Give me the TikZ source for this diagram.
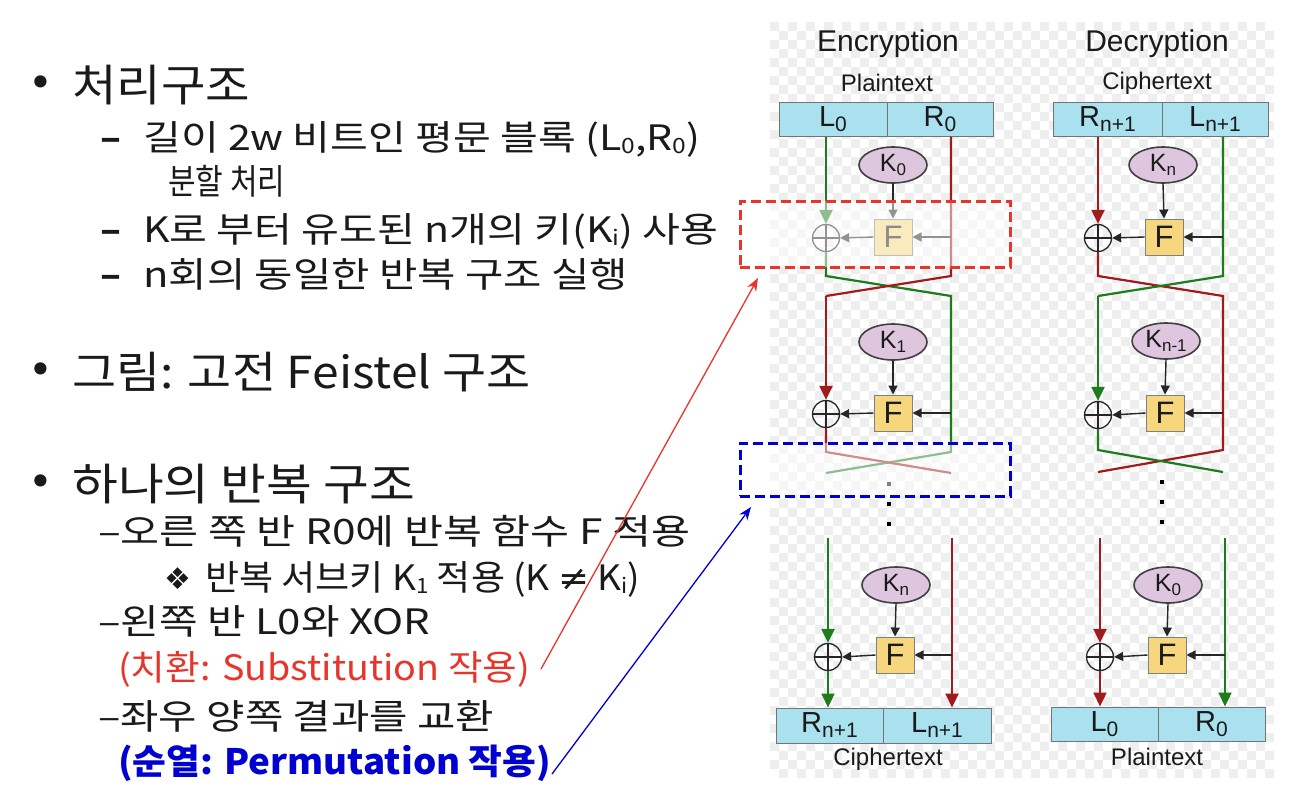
\documentclass[tikz,border=0pt]{standalone}
\usepackage{fontspec}
\usepackage{graphicx}
\usetikzlibrary{shapes.geometric,arrows.meta}
\setmainfont{Liberation Sans}
\newfontfamily\krfont{Noto Sans CJK KR}
\newfontfamily\symfont{DejaVu Sans}

\definecolor{encgreen}{HTML}{1E7B1E}
\definecolor{encred}{HTML}{A01C1C}
\definecolor{halfcyan}{HTML}{A9E1EE}
\definecolor{keypurple}{HTML}{DFC6DF}
\definecolor{fyellow}{HTML}{F6D77E}
\definecolor{checkgray}{HTML}{EEEEEE}
\definecolor{subred}{HTML}{E8352B}
\definecolor{permblue}{HTML}{0000D0}
\definecolor{inkgray}{HTML}{1A1A1A}

% stretch a line of text to a given width, keeping its height
\newcommand\fitto[2]{\resizebox{#1}{\height}{#2}}
% half-block labels, key labels and small indices in the running text
\newcommand\hsub[2]{#1\raisebox{-5pt}{\fontsize{21}{21}\selectfont #2}}
\newcommand\ksub[2]{#1\raisebox{-4pt}{\fontsize{17}{17}\selectfont #2}}
\newcommand\tsub[1]{\raisebox{-3pt}{\fontsize{21}{21}\selectfont #1}}

\begin{document}
\begin{tikzpicture}[x=1pt,y=-1pt,
  title/.style={font=\fontsize{30}{32}\selectfont, text=inkgray, inner sep=0},
  caption/.style={font=\fontsize{24}{26}\selectfont, text=inkgray, inner sep=0},
  half/.style={draw=black!55, line width=1pt, fill=halfcyan, minimum height=34pt,
    inner sep=0, font=\fontsize{29}{30}\selectfont, text=inkgray},
  keynode/.style={ellipse, draw=black!75, line width=1.6pt, fill=keypurple,
    minimum width=68pt, minimum height=36pt, inner sep=0,
    font=\fontsize{25}{26}\selectfont, text=inkgray},
  fnode/.style={draw=black!50, line width=1pt, fill=fyellow, minimum width=38pt,
    minimum height=36pt, inner sep=0, font=\fontsize{31}{32}\selectfont, text=inkgray},
  xornode/.style={circle, draw=black!85, line width=1.3pt, minimum size=27pt, inner sep=0,
    path picture={\draw[black!85, line width=1.3pt]
      (path picture bounding box.north) -- (path picture bounding box.south)
      (path picture bounding box.west) -- (path picture bounding box.east);}},
  gline/.style={draw=encgreen, line width=2.2pt},
  rline/.style={draw=encred, line width=2.2pt},
  bline/.style={draw=black!85, line width=1.4pt, -{Triangle[length=9pt,width=9pt]}},
  bigtip/.style={-{Triangle[length=14pt,width=13pt]}},
  dotn/.style={rectangle, fill=black, minimum size=4pt, inner sep=0},
  zone/.style={line width=3pt, dash pattern=on 10pt off 5pt, fill=white, fill opacity=0.5, draw opacity=1},
  bul/.style={font=\symfont\fontsize{42}{44}\selectfont, text=inkgray, inner sep=0},
  head/.style={anchor=base west, font=\krfont\fontsize{44}{48}\selectfont, text=inkgray, inner sep=0},
  sub/.style={anchor=base west, font=\krfont\fontsize{35}{40}\selectfont, text=inkgray, inner sep=0},
  dashmark/.style={anchor=base west, font=\krfont\bfseries\fontsize{35}{40}\selectfont, text=inkgray, inner sep=0},
  pointer/.style={line width=1.3pt, -{Stealth[length=13pt,width=10pt]}}
]
\useasboundingbox (0,0) rectangle (1313,806);
\fill[white] (0,0) rectangle (1313,806);

% ---------- checkered backdrop of the cipher diagram ----------
\fill[white] (770,22) rectangle (1274,778);
\foreach \j in {0,...,83}{
  \pgfmathtruncatemacro\s{mod(\j,2)}
  \pgfmathtruncatemacro\t{\s+2}
  \foreach \i in {\s,\t,...,55}{
    \fill[checkgray] (770+9*\i,22+9*\j) rectangle ++(9,9);
  }
}

% ---------- headings ----------
\node[title] (encT) at (888,44) {Encryption};
\node[title] (decT) at (1157,44) {Decryption};
\node[caption] (encP) at (887,83) {Plaintext};
\node[caption] (decC) at (1157,83) {Ciphertext};

% ---------- encryption ----------
\node[half, minimum width=108pt] (eL0) at (833,119) {\hsub{L}{0}};
\node[half, minimum width=106pt] (eR0) at (940,119) {\hsub{R}{0}};
\node[keynode] (eK1) at (893,165) {\ksub{K}{0}};
\node[fnode] (eF1) at (893,237) {F};
\node[xornode] (eX1) at (826,238) {};
\node[keynode] (eK2) at (893,342) {\ksub{K}{1}};
\node[fnode] (eF2) at (893,413) {F};
\node[xornode] (eX2) at (826,414) {};
\node[keynode] (eK3) at (896,585) {\ksub{K}{n}};
\node[fnode] (eF3) at (895,655) {F};
\node[xornode] (eX3) at (828,657) {};
\node[half, minimum width=107pt, minimum height=35pt] (eRn) at (829.5,725.5) {\hsub{R}{n+1}};
\node[half, minimum width=108pt, minimum height=35pt] (eLn) at (937,725.5) {\hsub{L}{n+1}};
\node[caption] (encC) at (888,759) {Ciphertext};

\coordinate (e1a) at (826,276); \coordinate (e1b) at (951,276);
\coordinate (e1c) at (826,296); \coordinate (e1d) at (951,296);
\coordinate (e2a) at (826,452); \coordinate (e2b) at (951,452);
\coordinate (e2c) at (826,473); \coordinate (e2d) at (951,473);
\coordinate (e3l) at (828,538); \coordinate (e3r) at (952,538);

\draw[gline, bigtip] (eX1 |- eL0.south) -- (eX1.north);
\draw[gline] (eX1.south) -- (e1a) -- (e1d) -- (e2b) -- (e2c);
\draw[rline] (e1b |- eR0.south) -- (e1b) -- (e1c);
\draw[rline, bigtip] (e1c) -- (eX2.north);
\draw[rline] (eX2.south) -- (e2a) -- (e2d);
\draw[gline, bigtip] (e3l) -- (eX3.north);
\draw[gline, bigtip] (eX3.south) -- (eX3 |- eRn.north);
\draw[rline, bigtip] (e3r) -- (e3r |- eLn.north);

\draw[bline] (eK1.south) -- (eF1.north);
\draw[bline] (e1b |- eF1) -- (eF1.east);
\draw[bline] (eF1.west) -- (eX1.east);
\draw[bline] (eK2.south) -- (eF2.north);
\draw[bline] (e1d |- eF2) -- (eF2.east);
\draw[bline] (eF2.west) -- (eX2.east);
\draw[bline] (eK3.south) -- (eF3.north);
\draw[bline] (e3r |- eF3) -- (eF3.east);
\draw[bline] (eF3.west) -- (eX3.east);

\node[dotn] (ed1) at (889,484) {};
\node[dotn] (ed2) at (889,504) {};
\node[dotn] (ed3) at (889,524) {};

% ---------- decryption ----------
\node[half, minimum width=109pt] (dRn) at (1107.5,119) {\hsub{R}{n+1}};
\node[half, minimum width=106pt] (dLn) at (1215,119) {\hsub{L}{n+1}};
\node[keynode] (dK1) at (1163,165) {\ksub{K}{n}};
\node[fnode] (dF1) at (1164,237) {F};
\node[xornode] (dX1) at (1098,238) {};
\node[keynode] (dK2) at (1166,341) {\ksub{K}{n-1}};
\node[fnode] (dF2) at (1165,413) {F};
\node[xornode] (dX2) at (1098,415) {};
\node[keynode] (dK3) at (1168,585) {\ksub{K}{0}};
\node[fnode] (dF3) at (1167,655) {F};
\node[xornode] (dX3) at (1100,657) {};
\node[half, minimum width=107pt] (dL0) at (1104.5,724) {\hsub{L}{0}};
\node[half, minimum width=107pt] (dR0) at (1211.5,724) {\hsub{R}{0}};
\node[caption] (decP) at (1157,757) {Plaintext};

\coordinate (d1a) at (1098,276); \coordinate (d1b) at (1223,276);
\coordinate (d1c) at (1098,296); \coordinate (d1d) at (1223,296);
\coordinate (d2a) at (1098,450); \coordinate (d2b) at (1223,450);
\coordinate (d2c) at (1098,472); \coordinate (d2d) at (1223,472);
\coordinate (d3l) at (1100,538); \coordinate (d3r) at (1225,538);

\draw[rline, bigtip] (dX1 |- dRn.south) -- (dX1.north);
\draw[rline] (dX1.south) -- (d1a) -- (d1d) -- (d2b) -- (d2c);
\draw[gline] (d1b |- dLn.south) -- (d1b) -- (d1c);
\draw[gline, bigtip] (d1c) -- (dX2.north);
\draw[gline] (dX2.south) -- (d2a) -- (d2d);
\draw[rline, bigtip] (d3l) -- (dX3.north);
\draw[rline, bigtip] (dX3.south) -- (dX3 |- dL0.north);
\draw[gline, bigtip] (d3r) -- (d3r |- dR0.north);

\draw[bline] (dK1.south) -- (dF1.north);
\draw[bline] (d1b |- dF1) -- (dF1.east);
\draw[bline] (dF1.west) -- (dX1.east);
\draw[bline] (dK2.south) -- (dF2.north);
\draw[bline] (d1d |- dF2) -- (dF2.east);
\draw[bline] (dF2.west) -- (dX2.east);
\draw[bline] (dK3.south) -- (dF3.north);
\draw[bline] (d3r |- dF3) -- (dF3.east);
\draw[bline] (dF3.west) -- (dX3.east);

\node[dotn] (dd1) at (1162,482) {};
\node[dotn] (dd2) at (1162,502) {};
\node[dotn] (dd3) at (1162,522) {};

% ---------- highlighted stages ----------
\node[zone, draw=subred, minimum width=270pt, minimum height=66pt, inner sep=0] (zoneS) at (875,234) {};
\node[zone, draw=permblue, minimum width=270pt, minimum height=53pt, inner sep=0] (zoneP) at (875,469.5) {};

% ---------- explanatory text ----------
\node[bul] (b1) at (41,87) {•};
\node[head] (t1) at (72,101) {\fitto{178pt}{처리구조}};
\node[dashmark] (m2) at (100,150) {\fitto{21pt}{–}};
\node[sub] (t2) at (143,150) {\fitto{557pt}{길이 2w 비트인 평문 블록 (L\tsub{0},R\tsub{0})}};
\node[sub] (t3) at (168,194) {\fitto{117pt}{분할 처리}};
\node[dashmark] (m4) at (100,242) {\fitto{21pt}{–}};
\node[sub] (t4) at (143,242) {\fitto{575pt}{K로 부터 유도된 n개의 키(K\tsub{i}) 사용}};
\node[dashmark] (m5) at (100,287) {\fitto{21pt}{–}};
\node[sub] (t5) at (143,287) {\fitto{485pt}{n회의 동일한 반복 구조 실행}};

\node[bul] (b6) at (41,374) {•};
\node[head] (t6) at (72,388) {\fitto{458pt}{그림: 고전 Feistel 구조}};

\node[bul] (b7) at (41,486) {•};
\node[head] (t7) at (72,500) {\fitto{343pt}{하나의 반복 구조}};
\node[sub] (t8) at (98,544) {\fitto{592pt}{–오른 쪽 반 R0에 반복 함수 F 적용}};
\node[sub, font=\symfont\fontsize{30}{32}\selectfont] (m9) at (164,589) {❖};
\node[sub] (t9) at (205,590) {\fitto{435pt}{반복 서브키 K\tsub{1} 적용 (K {\symfont ≠} K\tsub{i})}};
\node[sub] (t10) at (98,634) {\fitto{332pt}{–왼쪽 반 L0와 XOR}};
\node[sub, text=subred] (t11) at (118,680) {\fitto{412pt}{(치환: Substitution 작용)}};
\node[sub] (t12) at (98,729) {\fitto{396pt}{–좌우 양쪽 결과를 교환}};
\node[sub, text=permblue, font=\krfont\bfseries\fontsize{35}{40}\selectfont] (t13) at (118,774) {\fitto{433pt}{(순열: Permutation 작용)}};

% ---------- pointers from text to highlighted stages ----------
\coordinate (srcS) at (541,669);
\coordinate (tipS) at (758,278);
\coordinate (srcP) at (552,774);
\coordinate (tipP) at (751,507);
\draw[pointer, subred] (srcS) -- (tipS);
\draw[pointer, permblue] (srcP) -- (tipP);
\end{tikzpicture}
\end{document}
